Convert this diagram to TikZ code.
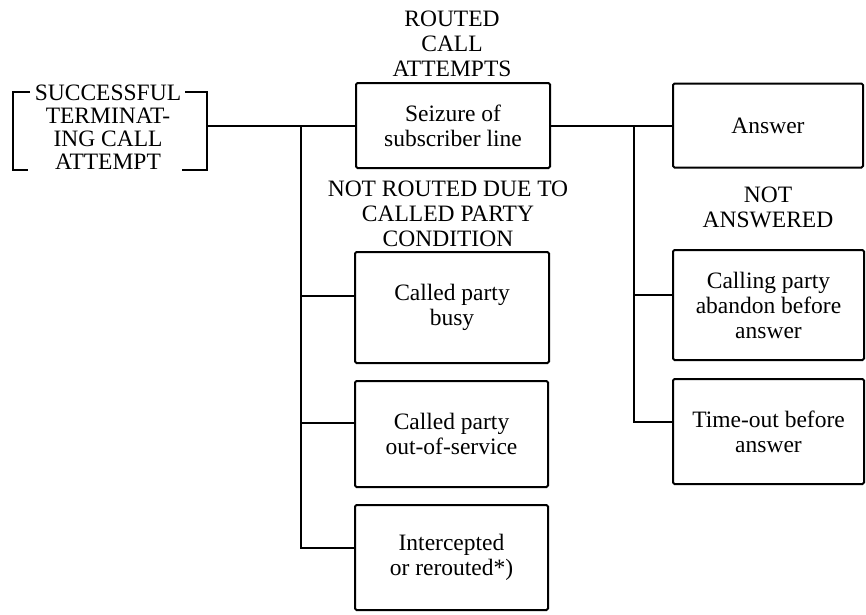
\documentclass[tikz,border=0pt]{standalone}
\usepackage{fontspec}
\setmainfont{Liberation Serif}
\begin{document}
\begin{tikzpicture}[x=1pt,y=-1pt, line width=2pt,
  box/.style={draw, rounded corners=1.5pt, minimum width=194pt, align=center, inner sep=0pt, font=\fontsize{23.5}{25}\selectfont},
  lbl/.style={align=center, inner sep=0pt, font=\fontsize{23.5}{25}\selectfont}]
\useasboundingbox (0,0) rectangle (866,614);
% boxes
\node[box, minimum height=85pt] (seiz) at (453,125.5) {Seizure of\\subscriber line};
\node[box, minimum height=111pt] (busy) at (452,307.5) {Called party\\busy};
\node[box, minimum width=193pt, minimum height=106pt] (oos) at (451.5,434) {Called party\\out-of-service};
\node[box, minimum width=193pt, minimum height=105pt] (intc) at (451.5,557.5) {Intercepted\\or rerouted*)};
\node[box, minimum width=190pt, minimum height=84pt] (ans) at (768,125.5) {Answer};
\node[box, minimum width=191pt, minimum height=110pt] (call) at (768.5,305) {Calling party\\abandon before\\answer};
\node[box, minimum width=191pt, minimum height=105pt] (tout) at (768.5,431.5) {Time-out before\\answer};
% labels
\node[lbl] (routed) at (452,44) {ROUTED\\CALL\\ATTEMPTS};
\node[lbl] (notrouted) at (448,214) {NOT ROUTED DUE TO\\CALLED PARTY\\CONDITION};
\node[lbl] (notans) at (768,207) {NOT\\ANSWERED};
\node[lbl, font=\fontsize{23.5}{23}\selectfont] (succtxt) at (108,127.5) {SUCCESSFUL\\TERMINAT-\\ING CALL\\ATTEMPT};
\node[minimum width=194pt, minimum height=78pt, inner sep=0pt, outer sep=0pt] (succ) at (110,131) {};
% bracket
\draw ([xshift=17pt]succ.north west) -- (succ.north west) -- (succ.south west) -- ([xshift=15pt]succ.south west);
\draw ([xshift=-22pt]succ.north east) -- (succ.north east) -- (succ.south east) -- ([xshift=-25pt]succ.south east);
% connectors
\coordinate (lb) at (301,0);
\coordinate (rb) at (634,0);
\coordinate (bw) at ([yshift=11.5pt]busy.west);
\coordinate (ow) at ([yshift=11pt]oos.west);
\coordinate (iw) at ([yshift=10pt]intc.west);
\coordinate (cw) at ([yshift=10pt]call.west);
\coordinate (tw) at ([yshift=9.5pt]tout.west);
\draw (succ.east |- seiz.west) -- (seiz.west);
\draw (lb |- seiz.west) -- (lb |- iw) -- (iw);
\draw (lb |- bw) -- (bw);
\draw (lb |- ow) -- (ow);
\draw (seiz.east) -- (ans.west);
\draw (rb |- ans.west) -- (rb |- tw) -- (tw);
\draw (rb |- cw) -- (cw);
\end{tikzpicture}
\end{document}
